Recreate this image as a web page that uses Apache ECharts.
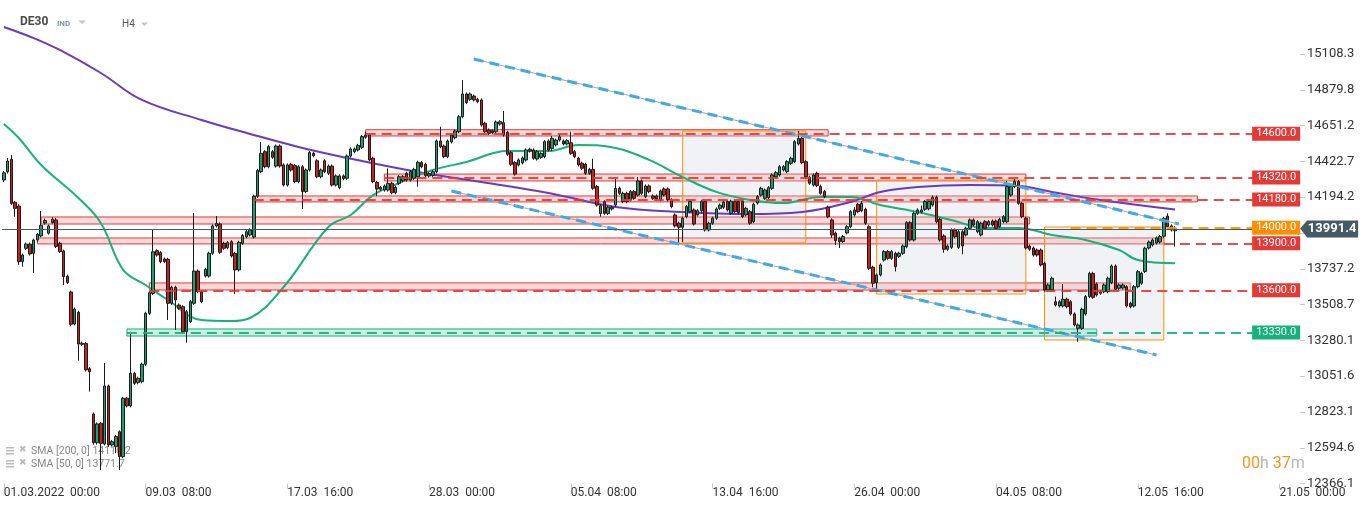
<!DOCTYPE html>
<html><head><meta charset="utf-8">
<script src="https://cdn.jsdelivr.net/npm/echarts@6/dist/echarts.min.js"></script>
<style>html,body{margin:0;padding:0;background:#fff}#c{width:1368px;height:509px}</style>
</head><body><div id="c"></div>
<script>
// ---------- data ----------
const SLOTS = 348;
const xTickEvery = 38;
const xTickLabels = ['01.03.2022  00:00','09.03  08:00','17.03  16:00','28.03  00:00','05.04  08:00','13.04  16:00','26.04  00:00','04.05  08:00','12.05  16:00','21.05  00:00'];
const yTicks = [12366.1,12594.6,12823.1,13051.6,13280.1,13508.7,13737.2,13965.7,14194.2,14422.7,14651.2,14879.8,15108.3];

const opens = [
14304,14357,14436,14162,14138,13783,13868,13895,13836,13921,
13947,14030,13964,14032,14049,13900,13851,13690,13589,13385,
13460,13255,13260,13100,12810,12627,12751,12619,12989,12613,
12602,12697,12538,12911,12862,13070,13011,13017,13128,13453,
13580,13853,13840,13800,13798,13517,13619,13506,13495,13336,
13400,13517,13723,13591,13691,13691,13836,14011,14023,13900,
13872,13910,13836,13730,13900,13942,13953,13940,14200,14357,
14485,14389,14485,14393,14521,14400,14272,14404,14396,14293,
14389,14230,14368,14474,14427,14325,14427,14347,14393,14272,
14255,14330,14315,14457,14485,14496,14513,14577,14591,14443,
14289,14245,14240,14240,14283,14223,14283,14300,14347,14304,
14315,14325,14415,14404,14330,14334,14357,14553,14521,14453,
14547,14574,14612,14708,14853,14819,14840,14819,14815,14666,
14623,14619,14612,14661,14670,14608,14479,14415,14400,14413,
14432,14489,14496,14438,14449,14453,14553,14506,14528,14559,
14553,14534,14542,14485,14443,14411,14404,14347,14372,14262,
14090,14165,14091,14119,14144,14251,14166,14219,14177,14230,
14208,14298,14198,14266,14202,14202,14177,14247,14247,14177,
14081,14028,14002,14070,14102,14113,14081,14108,14166,13985,
14028,14060,14123,14130,14166,14091,14166,14166,14166,14081,
14102,14038,14157,14208,14187,14192,14251,14325,14336,14368,
14357,14411,14421,14534,14570,14421,14321,14272,14347,14262,
14230,14130,14049,13965,13932,13911,13966,14006,14081,14149,
14108,14117,14006,13747,13649,13698,13793,13847,13804,13836,
13817,13836,13878,14032,13921,14091,14100,14117,14120,14144,
14194,14053,13947,13862,13874,13985,13874,13974,13953,13996,
14049,13974,13953,14038,14017,14042,14042,14006,14038,14038,
14208,14262,14294,14155,14060,13883,13870,13857,13857,13772,
13602,13602,13527,13500,13500,13543,13527,13449,13357,13357,
13449,13560,13708,13640,13581,13591,13591,13649,13755,13613,
13615,13623,13517,13500,13623,13645,13720,13870,13889,13902,
13908,13945,14074,14011,13980];
const closes = [
14350,14425,14155,14123,13783,13825,13895,13832,13921,13957,
14015,14045,14011,14053,13880,13847,13687,13650,13383,13480,
13257,13262,13092,13080,12627,12747,12623,12989,12613,12634,
12666,12538,12911,12862,13070,13006,13038,13128,13453,13585,
13846,13825,13783,13783,13517,13619,13538,13485,13336,13463,
13527,13723,13591,13527,13734,13836,14011,14026,13843,13868,
13904,13819,13730,13906,13949,13974,13985,14200,14365,14474,
14389,14517,14449,14521,14393,14272,14400,14368,14293,14389,
14230,14368,14479,14459,14325,14368,14357,14393,14272,14330,
14330,14313,14457,14502,14502,14525,14581,14591,14432,14294,
14247,14257,14266,14283,14223,14257,14325,14325,14304,14357,
14372,14417,14389,14332,14344,14357,14553,14517,14453,14553,
14591,14617,14708,14853,14798,14853,14815,14804,14655,14612,
14602,14606,14674,14676,14591,14468,14404,14342,14432,14445,
14496,14500,14443,14485,14474,14549,14496,14570,14559,14580,
14534,14555,14474,14453,14400,14379,14347,14372,14251,14144,
14140,14091,14130,14130,14251,14219,14219,14166,14230,14187,
14298,14219,14266,14230,14187,14185,14234,14208,14177,14134,
14011,14002,14060,14134,14166,14023,14108,14166,13985,14028,
14060,14119,14144,14162,14113,14168,14102,14096,14070,14123,
14028,14149,14198,14251,14240,14255,14336,14351,14389,14389,
14421,14443,14549,14570,14415,14325,14283,14336,14268,14219,
14198,14070,13953,13917,13911,13943,14006,14102,14113,14102,
14155,14028,13740,13645,13698,13762,13847,13804,13847,13751,
13836,13883,14032,13921,14091,14113,14113,14166,14166,14194,
14038,13921,13862,13883,13985,13942,13974,13883,13996,14049,
14017,14038,14028,13996,14038,14017,13996,14053,14070,14262,
14262,14294,14155,14070,13870,13862,13825,13825,13762,13602,
13634,13677,13506,13527,13543,13495,13449,13379,13379,13479,
13560,13708,13555,13570,13591,13634,13677,13755,13606,13634,
13634,13500,13495,13623,13719,13708,13868,13908,13921,13934,
13943,14060,14006,13985,13991.4];
const lows = [
14290,14345,14145,14070,13762,13751,13858,13822,13710,13910,
13938,14018,13955,14025,13870,13838,13634,13640,13370,13375,
13151,13245,13082,12953,12615,12615,12453,12610,12600,12603,
12560,12453,12528,12852,12852,12996,13000,13006,13118,13443,
13570,13815,13773,13773,13410,13507,13347,13475,13326,13266,
13390,13507,13581,13517,13681,13681,13826,14001,13833,13858,
13862,13809,13576,13720,13890,13932,13943,13930,14190,14347,
14379,14379,14439,14383,14383,14262,14262,14358,14283,14283,
14119,14220,14358,14449,14315,14315,14347,14337,14262,14262,
14245,14303,14305,14447,14475,14486,14503,14567,14422,14284,
14202,14235,14230,14230,14213,14213,14273,14290,14294,14294,
14305,14262,14379,14322,14320,14324,14347,14507,14443,14443,
14537,14564,14602,14698,14788,14809,14805,14794,14645,14602,
14592,14596,14602,14651,14581,14458,14394,14332,14390,14403,
14422,14479,14433,14428,14439,14443,14486,14490,14518,14549,
14524,14524,14464,14443,14390,14369,14337,14337,14241,14134,
14070,14081,14081,14109,14134,14209,14156,14156,14167,14177,
14198,14209,14188,14220,14177,14175,14167,14198,14167,14124,
14001,13900,13908,14060,14092,14013,14071,14098,13975,13975,
14018,14050,14113,14120,14103,14081,14092,14086,14060,14071,
14018,14028,14147,14198,14177,14182,14241,14315,14326,14358,
14347,14401,14411,14524,14405,14315,14273,14262,14258,14210,
14188,14060,13935,13890,13870,13901,13956,13996,14071,14092,
14098,14018,13730,13620,13610,13688,13783,13794,13794,13720,
13807,13826,13868,13911,13911,14081,14090,14107,14110,14134,
14028,13911,13840,13852,13864,13932,13864,13830,13943,13986,
14007,13964,13943,13986,14007,14007,13986,13996,14028,14028,
14198,14252,14145,14060,13860,13852,13815,13815,13752,13592,
13592,13592,13496,13490,13490,13485,13439,13369,13272,13347,
13439,13550,13545,13560,13571,13581,13581,13639,13596,13603,
13605,13490,13485,13490,13613,13635,13710,13860,13879,13892,
13898,13935,13996,13975,13880];
const highs = [
14362,14444,14464,14170,14150,13834,13905,13905,13930,13966,
14106,14058,14020,14066,14062,13910,13860,13700,13598,13490,
13470,13272,13270,13110,12820,12757,12760,13136,12998,12645,
12676,12706,12920,12920,13328,13080,13048,13138,13463,13595,
13985,13862,13850,13810,13808,13629,13629,13516,13505,13473,
13537,14093,13733,13601,13744,13846,14021,14074,14033,13910,
13914,13920,13846,13916,13959,13984,13995,14210,14375,14547,
14495,14527,14495,14531,14531,14410,14410,14414,14406,14399,
14399,14378,14489,14484,14437,14378,14437,14403,14403,14340,
14340,14340,14467,14512,14512,14535,14591,14612,14601,14453,
14299,14267,14276,14378,14293,14267,14335,14335,14357,14367,
14382,14427,14425,14414,14354,14367,14563,14644,14531,14563,
14601,14627,14718,14942,14863,14863,14850,14829,14825,14676,
14633,14629,14684,14686,14745,14618,14489,14425,14442,14455,
14506,14510,14506,14495,14484,14559,14563,14585,14569,14600,
14563,14565,14612,14495,14453,14421,14414,14382,14440,14272,
14150,14175,14140,14140,14317,14261,14229,14229,14240,14240,
14323,14308,14276,14276,14212,14212,14244,14257,14257,14187,
14091,14038,14070,14144,14176,14123,14118,14176,14176,14038,
14070,14129,14154,14172,14176,14178,14176,14176,14176,14133,
14112,14159,14208,14261,14250,14265,14346,14361,14399,14399,
14431,14453,14559,14617,14580,14431,14331,14346,14357,14275,
14240,14140,14059,13975,13942,13953,14016,14112,14130,14159,
14170,14127,14016,13757,13708,13772,13857,13857,13857,13846,
13846,13893,14042,14042,14101,14123,14140,14176,14176,14205,
14204,14063,13957,13893,13995,13995,13984,13984,14006,14059,
14059,14048,14038,14048,14048,14052,14052,14063,14080,14298,
14272,14310,14304,14165,14070,13893,13880,13867,13867,13782,
13644,13687,13560,13537,13640,13553,13537,13459,13389,13489,
13570,13718,13718,13650,13601,13644,13687,13765,13765,13644,
13644,13633,13527,13633,13729,13718,13878,13918,13931,13944,
13953,14070,14091,14021,14010];

// SMA readings [barIndex, value]
const sma200 = [[0,15281],[8,15210],[15,15134],[26,14987],[37,14815],[53,14687],[66,14598],[79,14515],[92,14445],[111,14355],[128,14291],[146,14221],[164,14132],[182,14100],[200,14087],[214,14100],[227,14164],[235,14228],[245,14259],[259,14272],[272,14266],[281,14228],[294,14177],[314,14116]];
const sma50 = [[0,14662],[4,14572],[10,14400],[20,14189],[26,14030],[32,13730],[38,13634],[44,13538],[53,13410],[61,13404],[66,13423],[75,13621],[87,14004],[93,14081],[99,14208],[106,14285],[115,14368],[124,14419],[135,14489],[146,14489],[154,14528],[164,14508],[173,14432],[182,14323],[191,14228],[200,14177],[209,14157],[219,14196],[227,14196],[235,14144],[245,14100],[254,14049],[263,13998],[272,13998],[281,13953],[290,13921],[299,13857],[304,13793],[314,13772]];

// trend lines [[startIdx, price],[endIdx, price]]
const trendUpper = [[126,15076],[315,14023]];
const trendLower = [[120,14234],[309,13187]];

// zones: [fromIdx, toIdx, top, bottom, kind]
const zones = [
  [97,221,14625,14585,'r'],
  [102,274,14342,14298,'r'],
  [67,320,14202,14164,'r'],
  [10,275,14068,14023,'r'],
  [9,311,13934,13896,'r'],
  [39,302,13647,13602,'r'],
  [33,293,13353,13308,'g']
];
// shaded range boxes: [fromIdx, toIdx, top, bottom]
const boxes = [
  [182,215,14617,13902],
  [234,274,14304,13576],
  [279,311,14004,13283]
];
// levels: [value, fromIdx, kind]
const levels = [
  [14600,97,'r'],[14320,102,'r'],[14180,67,'r'],[14000,286,'o'],
  [13900,311,'r'],[13600,39,'r'],[13330,33,'g']
];
const lastPrice = 13991.4;

// ---------- chart ----------
const COL = {r:'#e53935', g:'#12b27a', o:'#ff8f00'};
const FILL = {r:'rgba(239,83,80,0.22)', g:'rgba(18,178,122,0.22)'};
const categories = Array.from({length: SLOTS}, (_, i) => String(i));
const candles = opens.map((o, i) => [o, closes[i], lows[i], highs[i]]);

const areaData = zones.map(z => [
  {xAxis: z[0], yAxis: z[2], itemStyle: {color: FILL[z[4]], borderColor: COL[z[4]], borderWidth: 1}},
  {xAxis: z[1], yAxis: z[3]}
]).concat(boxes.map(b => [
  {xAxis: b[0], yAxis: b[2], itemStyle: {color: 'rgba(205,210,220,0.28)', borderColor: '#ff8f00', borderWidth: 1}},
  {xAxis: b[1], yAxis: b[3]}
]));

const lineData = levels.map(l => [
  {coord: [l[1], l[0]], lineStyle: {color: COL[l[2]], width: 2, type: [10, 6], opacity: 0.9}},
  {coord: [SLOTS - 1, l[0]]}
]);
lineData.push({yAxis: lastPrice, lineStyle: {color: '#455a64', width: 1, type: 'solid'}});

const pointData = levels.map(l => ({
  coord: [SLOTS - 1, l[0]], symbol: 'rect', symbolSize: [48, 14], symbolOffset: [-22, 0],
  itemStyle: {color: COL[l[2]]},
  label: {show: true, position: 'inside', formatter: l[0].toFixed(1), color: '#fff', fontSize: 11, fontFamily: 'Roboto'}
}));
pointData.push({
  coord: [SLOTS - 1, lastPrice], symbol: 'path://M0,8L7,0L58,0L58,17L7,17Z', symbolSize: [58, 17], symbolOffset: [31, 0],
  itemStyle: {color: '#455a64'},
  label: {show: true, position: 'inside', formatter: lastPrice.toFixed(1), color: '#fff', fontSize: 13, fontWeight: 'bold', fontFamily: 'Roboto', offset: [3, 0]}
});

function trendSeries(pts) {
  return [
    {type: 'line', data: pts, symbol: 'none', silent: true, z: 4, lineStyle: {color: '#a8a8a8', width: 1}},
    {type: 'line', data: pts, symbol: 'none', silent: true, z: 4, lineStyle: {color: '#42a8e6', width: 3, type: [10, 6]}}
  ];
}

const chart = echarts.init(document.getElementById('c'), null, {renderer: 'canvas'});
chart.setOption({
  animation: false,
  backgroundColor: '#ffffff',
  textStyle: {fontFamily: 'Roboto'},
  grid: {left: 2, right: 68, top: 0, bottom: 25.4},
  xAxis: {
    type: 'category', data: categories, boundaryGap: true,
    axisLine: {show: false},
    axisTick: {show: true, alignWithLabel: true, length: 5, lineStyle: {color: '#c8c8c8'},
      interval: (i) => i % xTickEvery === 0},
    axisLabel: {interval: (i) => i % xTickEvery === 0, align: 'left', margin: 3,
      color: '#333', fontSize: 12, fontFamily: 'Roboto',
      formatter: (v, i) => xTickLabels[Math.round(i / xTickEvery)] || ''},
    splitLine: {show: false}
  },
  yAxis: {
    type: 'value', position: 'right', min: 12366.1, max: 15453, scale: true,
    axisLine: {show: false},
    axisTick: {show: true, length: 5, lineStyle: {color: '#c8c8c8'}, customValues: yTicks},
    axisLabel: {customValues: yTicks, margin: 7, color: '#333', fontSize: 13, fontFamily: 'Roboto',
      formatter: v => v.toFixed(1)},
    splitLine: {show: false}
  },
  series: [
    {
      type: 'candlestick', name: 'DE30', data: candles, z: 3, barWidth: 3,
      itemStyle: {color: '#1f9d6c', color0: '#cc1d1d', borderColor: '#1c1c1c', borderColor0: '#1c1c1c', borderWidth: 1},
      markArea: {silent: true, label: {show: false}, data: areaData},
      markLine: {silent: true, symbol: ['none', 'none'], label: {show: false}, data: lineData},
      markPoint: {silent: true, data: pointData}
    },
    {type: 'line', name: 'SMA200', data: sma200, smooth: 0.4, symbol: 'none', silent: true, z: 2,
      lineStyle: {color: '#6a3bc2', width: 2}},
    {type: 'line', name: 'SMA50', data: sma50, smooth: 0.4, symbol: 'none', silent: true, z: 2,
      lineStyle: {color: '#17b27a', width: 2}},
    ...trendSeries(trendUpper),
    ...trendSeries(trendLower)
  ],
  graphic: [
    {type: 'text', left: 20, top: 16, style: {text: 'DE30', fill: '#4a4a4a', font: 'bold 12px Roboto'}},
    {type: 'text', left: 57, top: 20, style: {text: 'IND', fill: '#8a96a3', font: 'bold 8px Roboto'}},
    {type: 'polygon', shape: {points: [[78, 20.5], [86, 20.5], [82, 24]]}, style: {fill: '#c6c6c6'}},
    {type: 'text', left: 122, top: 19, style: {text: 'H4', fill: '#555', font: '10px Roboto'}},
    {type: 'polygon', shape: {points: [[141, 22.5], [148, 22.5], [144.5, 26]]}, style: {fill: '#c6c6c6'}},
    // legend icons & texts
    {type: 'rect', shape: {x: 6, y: 447, width: 8, height: 1.5}, style: {fill: '#bbb'}},
    {type: 'rect', shape: {x: 6, y: 450, width: 8, height: 1.5}, style: {fill: '#bbb'}},
    {type: 'rect', shape: {x: 6, y: 453, width: 8, height: 1.5}, style: {fill: '#bbb'}},
    {type: 'text', left: 19, top: 445, style: {text: '✖', fill: '#bbb', font: '9px "DejaVu Sans"'}},
    {type: 'text', left: 31, top: 446, style: {text: 'SMA [200, 0] 14116.2', fill: '#888', font: '10.5px Roboto'}},
    {type: 'rect', shape: {x: 6, y: 460, width: 8, height: 1.5}, style: {fill: '#bbb'}},
    {type: 'rect', shape: {x: 6, y: 463, width: 8, height: 1.5}, style: {fill: '#bbb'}},
    {type: 'rect', shape: {x: 6, y: 466, width: 8, height: 1.5}, style: {fill: '#bbb'}},
    {type: 'text', left: 19, top: 458, style: {text: '✖', fill: '#bbb', font: '9px "DejaVu Sans"'}},
    {type: 'text', left: 31, top: 459, style: {text: 'SMA [50, 0] 13771.7', fill: '#888', font: '10.5px Roboto'}},
    {type: 'text', left: 1242, top: 456, style: {
      text: '{o|00}{g|h }{o|37}{g|m}',
      rich: {o: {fill: '#f7941d', font: '16px Roboto'}, g: {fill: '#b0b8c0', font: '16px Roboto'}}
    }}
  ]
});
</script>
</body></html>
